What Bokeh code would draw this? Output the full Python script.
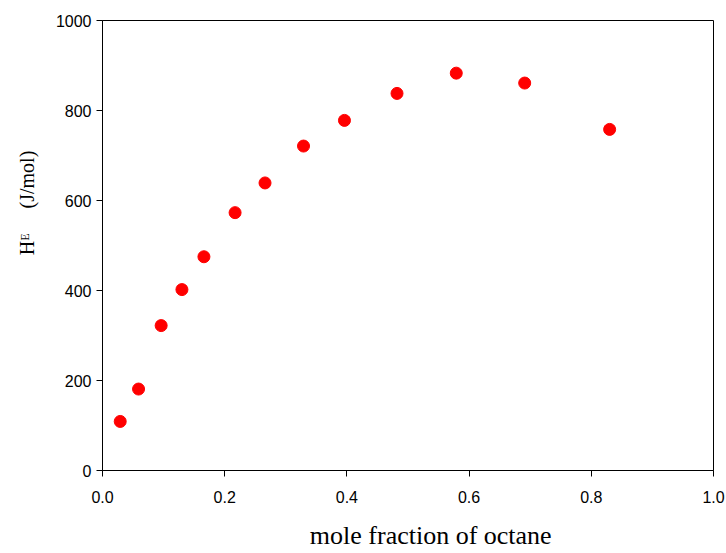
from bokeh.plotting import figure
from bokeh.models import ColumnDataSource, FixedTicker, PrintfTickFormatter, Range1d
from bokeh.embed import file_html
from bokeh.resources import INLINE

# data
mole_fraction = [0.029, 0.059, 0.096, 0.130, 0.166, 0.217, 0.266, 0.329, 0.396, 0.482, 0.579, 0.691, 0.830]
excess_enthalpy = [109, 181, 322, 402, 475, 573, 639, 721, 778, 838, 883, 861, 758]
x_ticks = [0.0, 0.2, 0.4, 0.6, 0.8, 1.0]
y_ticks = [0, 200, 400, 600, 800, 1000]

src = ColumnDataSource(data=dict(x=mole_fraction, y=excess_enthalpy))

p = figure(width=726, height=553, output_backend="svg", toolbar_location=None,
           x_range=Range1d(0, 1), y_range=Range1d(0, 1000),
           min_border_left=102, min_border_right=13, min_border_top=20, min_border_bottom=83)

p.scatter("x", "y", source=src, size=12, fill_color="#ff0000", line_color="#ff0000")

p.xgrid.visible = False
p.ygrid.visible = False
p.outline_line_color = "black"
p.outline_line_alpha = 1
p.outline_line_width = 1

for ax in (p.xaxis[0], p.yaxis[0]):
    ax.axis_line_color = "black"
    ax.major_tick_line_color = "black"
    ax.major_tick_out = 6
    ax.major_tick_in = 0
    ax.minor_tick_line_color = None
    ax.major_label_text_font = "Liberation Sans"
    ax.major_label_text_font_size = "16px"
    ax.major_label_text_color = "black"
    ax.axis_label_text_font = "Liberation Serif"
    ax.axis_label_text_font_style = "normal"
    ax.axis_label_text_color = "black"

p.xaxis.ticker = FixedTicker(ticks=x_ticks)
p.xaxis.formatter = PrintfTickFormatter(format="%.1f")
p.yaxis.ticker = FixedTicker(ticks=y_ticks)
p.yaxis.formatter = PrintfTickFormatter(format="%d")
p.xaxis.major_label_standoff = 14
p.yaxis.major_label_standoff = 5

nb = "\u00a0"
p.xaxis.axis_label = nb * 7 + "mole fraction of octane"
p.xaxis.axis_label_text_font_size = "26px"
p.xaxis.axis_label_standoff = 15

p.yaxis.axis_label = nb * 17 + "H\u1d31" + nb * 5 + "(J/mol)"
p.yaxis.axis_label_text_font_size = "20px"
p.yaxis.axis_label_standoff = 15

open("out.html", "w").write(file_html(p, INLINE))
